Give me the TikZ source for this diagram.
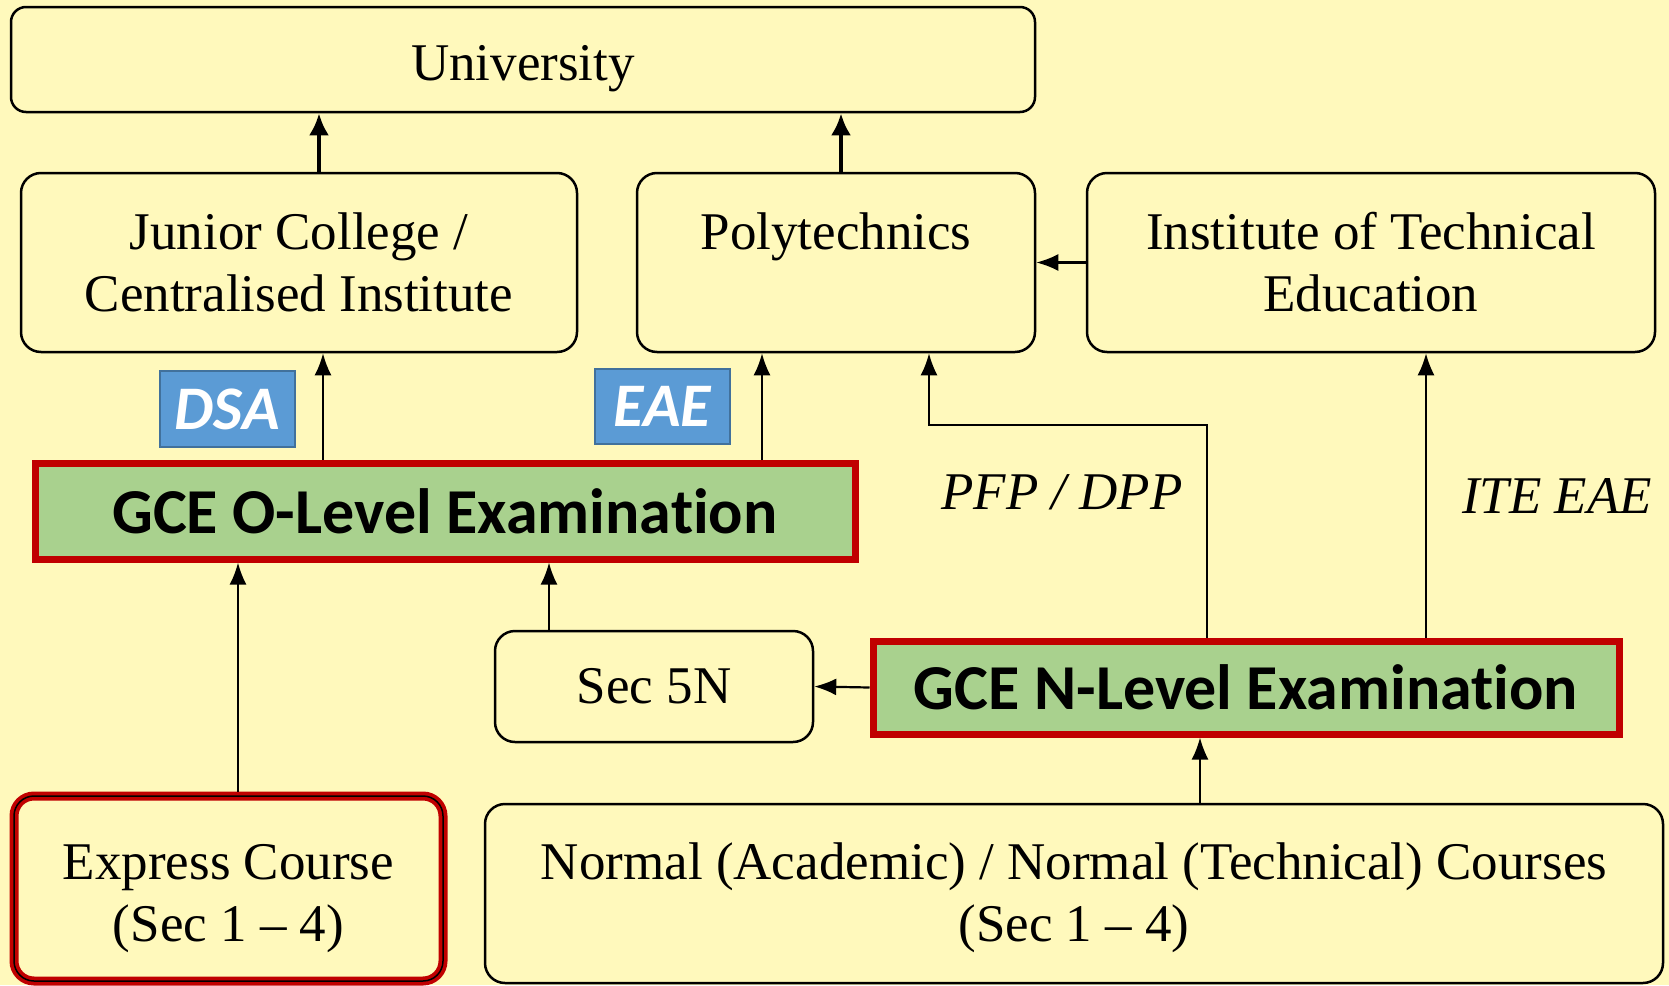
\documentclass[tikz,border=0pt]{standalone}
\usepackage{fontspec}
\setmainfont{Liberation Serif}
\newfontfamily\calib[RawFeature={-liga}]{Carlito}
\usetikzlibrary{arrows.meta}
\definecolor{bg}{HTML}{FFF9BC}
\definecolor{grn}{HTML}{A9D18E}
\definecolor{rd}{HTML}{C00000}
\definecolor{bl}{HTML}{5B9BD5}
\definecolor{bld}{HTML}{41719C}
\newcommand{\lowr}[2]{\raisebox{-#1}[\height][\depth]{#2}}
\begin{document}
\begin{tikzpicture}[x=1pt,y=-1pt,
 box/.style={draw=black,line width=2.5pt,rounded corners=20pt,fill=bg,inner sep=0pt,align=center,font=\fontsize{53}{62}\selectfont},
 exam/.style={draw=rd,line width=7pt,fill=grn,inner sep=0pt,font=\calib\bfseries\fontsize{64}{70}\selectfont},
 tag/.style={draw=bld,line width=2pt,fill=bl,text=white,inner sep=0pt,font=\calib\bfseries\itshape\fontsize{62}{66}\selectfont},
 arr/.style={line width=2.2pt,-{Latex[length=22pt,width=17pt]}},
 tarr/.style={line width=4.5pt,-{Latex[length=22pt,width=20pt]}},
 lbl/.style={font=\itshape\fontsize{53}{62}\selectfont}]
\fill[bg] (0,0) rectangle (1669,985);
\useasboundingbox (0,0) rectangle (1669,985);
% boxes
\node[box,rounded corners=15pt,minimum width=1024pt,minimum height=105pt] (uni) at (523,59.5) {\lowr{9pt}{University}};
\node[box,minimum width=556pt,minimum height=179pt] (jc) at (299,262.5) {Junior College /\\Centralised Institute};
\node[box,minimum width=398pt,minimum height=179pt] (poly) at (836,262.5) {Polytechnics\\\mbox{}};
\node[box,minimum width=568pt,minimum height=179pt] (ite) at (1371,262.5) {Institute of Technical\\Education};
\node[tag,minimum width=135pt,minimum height=76pt] (dsa) at (227.5,409) {DSA};
\node[tag,minimum width=135pt,minimum height=75pt] (eae) at (662.5,406.5) {EAE};
\node[exam,minimum width=820pt,minimum height=96pt] (olev) at (445,511) {GCE O-Level Examination};
\node[box,minimum width=318pt,minimum height=111pt] (sec) at (654,686.5) {Sec 5N};
\node[exam,minimum width=746pt,minimum height=93pt] (nlev) at (1246,687.5) {GCE N-Level Examination};
\node[box,draw=rd,line width=9pt,minimum width=429pt,minimum height=185pt] (exp) at (228.5,888.5) {\lowr{10pt}{Express Course}\\\lowr{10pt}{(Sec 1 – 4)}};
\draw[line width=1.5pt,rounded corners=20pt] ([shift={(4.5pt,4.5pt)}]exp.south west) rectangle ([shift={(-4.5pt,-4.5pt)}]exp.north east);
\node[box,minimum width=1178pt,minimum height=179pt] (norm) at (1074,893.5) {\lowr{4pt}{Normal (Academic) / Normal (Technical) Courses}\\\lowr{4pt}{(Sec 1 – 4)}};
% labels
\node[lbl] (pfp) at (1062,492) {PFP / DPP};
\node[lbl] (iteeae) at (1557,496) {ITE EAE};
% connectors
\draw[tarr] ([xshift=20pt]jc.north) -- ([xshift=20pt]jc.north |- uni.south);
\draw[tarr] ([xshift=5pt]poly.north) -- ([xshift=5pt]poly.north |- uni.south);
\draw[arr] (ite.west) -- (poly.east);
\draw[arr] ([xshift=24pt]jc.south |- olev.north) -- ([xshift=24pt]jc.south);
\draw[arr] ([xshift=-74pt]poly.south |- olev.north) -- ([xshift=-74pt]poly.south);
\coordinate (pk) at (929,425);
\draw[arr] ([xshift=-39pt]nlev.north) |- (pk) -- (pk |- poly.south);
\draw[arr] ([xshift=55pt]ite.south |- nlev.north) -- ([xshift=55pt]ite.south);
\draw[arr] ([xshift=9.5pt]exp.north) -- ([xshift=9.5pt]exp.north |- olev.south);
\draw[arr] ([xshift=-105pt]sec.north) -- ([xshift=-105pt]sec.north |- olev.south);
\draw[arr] (nlev.west) -- (sec.east);
\draw[arr] ([xshift=126pt]norm.north) -- ([xshift=126pt]norm.north |- nlev.south);
\end{tikzpicture}
\end{document}
